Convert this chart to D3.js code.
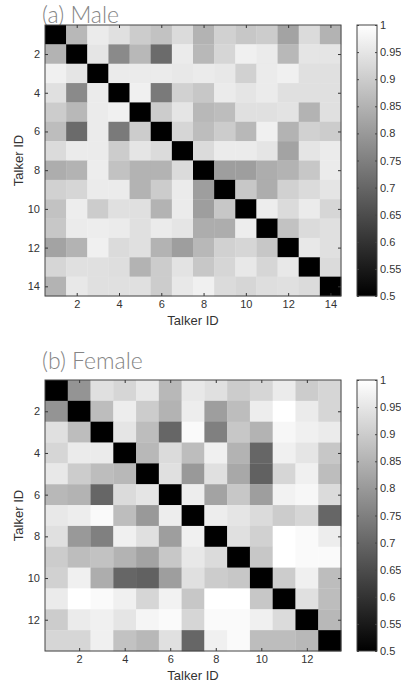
<!DOCTYPE html>
<html>
<head>
<meta charset="utf-8">
<script src="https://cdn.jsdelivr.net/npm/d3@7"></script>
<style>
  body { margin: 0; background: #fff; }
  svg { display: block; }
  .tick text { font-family: "Liberation Sans", Arial, sans-serif; font-size: 11px; fill: #333; }
  .axis-label { font-family: "Liberation Sans", Arial, sans-serif; font-size: 13px; fill: #333; }
  .panel-title { font-family: "Lato", "Open Sans", sans-serif; font-weight: 300; font-size: 23px; fill: #858585; }
</style>
</head>
<body>
<div id="chart"></div>
<script>
// Speaker similarity matrices, diagonal = 0.5 floor
const maleIds = d3.range(1, 15);
const maleMatrix = [
  [0.50, 0.86, 0.96, 0.94, 0.90, 0.88, 0.93, 0.85, 0.91, 0.89, 0.90, 0.82, 0.93, 0.85],
  [0.85, 0.50, 0.95, 0.77, 0.86, 0.71, 0.96, 0.86, 0.92, 0.97, 0.96, 0.86, 0.95, 0.95],
  [0.97, 0.95, 0.50, 0.96, 0.96, 0.96, 0.955, 0.96, 0.955, 0.91, 0.96, 0.97, 0.94, 0.94],
  [0.94, 0.77, 0.96, 0.50, 0.97, 0.74, 0.91, 0.89, 0.96, 0.95, 0.96, 0.94, 0.94, 0.94],
  [0.90, 0.86, 0.96, 0.97, 0.50, 0.90, 0.95, 0.86, 0.87, 0.94, 0.94, 0.945, 0.85, 0.94],
  [0.87, 0.71, 0.96, 0.74, 0.90, 0.50, 0.92, 0.87, 0.90, 0.86, 0.97, 0.85, 0.91, 0.90],
  [0.93, 0.96, 0.96, 0.90, 0.95, 0.93, 0.50, 0.93, 0.96, 0.96, 0.95, 0.82, 0.95, 0.96],
  [0.84, 0.85, 0.965, 0.88, 0.85, 0.85, 0.93, 0.50, 0.81, 0.81, 0.84, 0.85, 0.89, 0.96],
  [0.91, 0.92, 0.96, 0.96, 0.85, 0.90, 0.96, 0.81, 0.50, 0.89, 0.84, 0.91, 0.93, 0.95],
  [0.88, 0.965, 0.90, 0.94, 0.94, 0.85, 0.96, 0.81, 0.89, 0.50, 0.965, 0.93, 0.96, 0.92],
  [0.89, 0.96, 0.965, 0.96, 0.94, 0.96, 0.95, 0.84, 0.84, 0.965, 0.50, 0.88, 0.93, 0.94],
  [0.82, 0.85, 0.97, 0.93, 0.94, 0.85, 0.81, 0.86, 0.91, 0.92, 0.89, 0.50, 0.955, 0.94],
  [0.92, 0.94, 0.94, 0.935, 0.85, 0.90, 0.945, 0.89, 0.92, 0.955, 0.92, 0.955, 0.50, 0.93],
  [0.85, 0.955, 0.94, 0.94, 0.94, 0.90, 0.955, 0.97, 0.93, 0.92, 0.935, 0.94, 0.93, 0.50]
];

const femaleIds = d3.range(1, 14);
const femaleMatrix = [
  [0.50, 0.79, 0.94, 0.92, 0.955, 0.86, 0.955, 0.94, 0.90, 0.92, 0.96, 0.90, 0.92],
  [0.79, 0.50, 0.87, 0.965, 0.90, 0.85, 0.965, 0.81, 0.87, 0.965, 1.00, 0.96, 0.92],
  [0.94, 0.87, 0.50, 0.95, 0.87, 0.70, 0.99, 0.75, 0.89, 0.85, 0.985, 0.97, 0.96],
  [0.92, 0.96, 0.96, 0.50, 0.86, 0.93, 0.87, 0.97, 0.85, 0.70, 0.97, 0.95, 0.89],
  [0.955, 0.90, 0.87, 0.86, 0.50, 0.94, 0.80, 0.94, 0.83, 0.69, 0.92, 0.97, 0.87],
  [0.86, 0.85, 0.70, 0.93, 0.95, 0.50, 0.965, 0.82, 0.89, 0.81, 0.975, 0.985, 0.93],
  [0.955, 0.965, 0.99, 0.87, 0.80, 0.965, 0.50, 0.965, 0.95, 0.93, 0.90, 0.92, 0.70],
  [0.94, 0.80, 0.75, 0.97, 0.94, 0.81, 0.97, 0.50, 0.94, 0.91, 1.00, 0.99, 0.965],
  [0.90, 0.87, 0.88, 0.85, 0.82, 0.89, 0.955, 0.93, 0.50, 0.89, 1.00, 0.99, 0.99],
  [0.91, 0.97, 0.84, 0.70, 0.69, 0.81, 0.94, 0.90, 0.89, 0.50, 0.90, 0.97, 0.87],
  [0.96, 1.00, 0.99, 0.97, 0.92, 0.975, 0.89, 1.00, 1.00, 0.89, 0.50, 0.94, 0.87],
  [0.90, 0.96, 0.97, 0.95, 0.98, 0.99, 0.92, 0.99, 0.99, 0.97, 0.93, 0.50, 0.86],
  [0.92, 0.92, 0.97, 0.88, 0.86, 0.94, 0.70, 0.97, 0.99, 0.87, 0.87, 0.86, 0.50]
];

const colorTicks = [0.5, 0.55, 0.6, 0.65, 0.7, 0.75, 0.8, 0.85, 0.9, 0.95, 1];
const colorDomain = [0.5, 1];

const width = 401;
const height = 684;

const svg = d3.select('#chart')
  .append('svg')
  .attr('width', width)
  .attr('height', height);

// grey colormap, black = 0.5, white = 1
const color = d3.scaleLinear()
  .domain(colorDomain)
  .range(['#000000', '#ffffff'])
  .clamp(true);

// shared gradient for both colorbars
const grad = svg.append('defs')
  .append('linearGradient')
  .attr('id', 'greys')
  .attr('x1', 0).attr('y1', 1)
  .attr('x2', 0).attr('y2', 0);
grad.append('stop').attr('offset', '0%').attr('stop-color', color(colorDomain[0]));
grad.append('stop').attr('offset', '100%').attr('stop-color', color(colorDomain[1]));

/**
 * Draw one heatmap panel with its colorbar
 */
function drawPanel(cfg) {
  const { title, titleY, ids, matrix, top } = cfg;
  const left = 45, right = 341, bottom = top + 271;
  const n = ids.length;

  const x = d3.scaleLinear().domain([0.5, n + 0.5]).range([left, right]);
  const y = d3.scaleLinear().domain([0.5, n + 0.5]).range([top, bottom]);

  const g = svg.append('g');

  // title first so the frame sits on top of it
  g.append('text')
    .attr('class', 'panel-title')
    .attr('x', 42)
    .attr('y', titleY)
    .text(title);

  // cells
  const cells = [];
  matrix.forEach((row, i) => row.forEach((v, j) => cells.push({ r: ids[i], c: ids[j], v })));

  g.selectAll('rect.cell')
    .data(cells)
    .enter()
    .append('rect')
    .attr('class', 'cell')
    .attr('x', d => x(d.c - 0.5))
    .attr('y', d => y(d.r - 0.5))
    .attr('width', x(1.5) - x(0.5) + 0.3)
    .attr('height', y(1.5) - y(0.5) + 0.3)
    .attr('fill', d => color(d.v));

  const tickVals = ids.filter(d => d % 2 === 0);

  // inward ticks on all four sides (matlab style)
  g.append('g')
    .attr('transform', `translate(0,${bottom})`)
    .call(d3.axisBottom(x).tickValues(tickVals).tickSizeInner(-3).tickSizeOuter(0).tickPadding(4))
    .call(a => a.select('.domain').remove())
    .call(a => a.selectAll('line').attr('stroke', '#333'));

  g.append('g')
    .attr('transform', `translate(0,${top})`)
    .call(d3.axisTop(x).tickValues(tickVals).tickSizeInner(-3).tickSizeOuter(0).tickFormat(''))
    .call(a => a.select('.domain').remove())
    .call(a => a.selectAll('line').attr('stroke', '#333'));

  g.append('g')
    .attr('transform', `translate(${left},0)`)
    .call(d3.axisLeft(y).tickValues(tickVals).tickSizeInner(-3).tickSizeOuter(0).tickPadding(5))
    .call(a => a.select('.domain').remove())
    .call(a => a.selectAll('line').attr('stroke', '#333'));

  g.append('g')
    .attr('transform', `translate(${right},0)`)
    .call(d3.axisRight(y).tickValues(tickVals).tickSizeInner(-3).tickSizeOuter(0).tickFormat(''))
    .call(a => a.select('.domain').remove())
    .call(a => a.selectAll('line').attr('stroke', '#333'));

  // frame
  g.append('rect')
    .attr('x', left).attr('y', top)
    .attr('width', right - left).attr('height', bottom - top)
    .attr('fill', 'none')
    .attr('stroke', '#444')
    .attr('stroke-width', 1);

  // axis labels
  g.append('text')
    .attr('class', 'axis-label')
    .attr('x', (left + right) / 2)
    .attr('y', bottom + 29)
    .attr('text-anchor', 'middle')
    .text('Talker ID');

  g.append('text')
    .attr('class', 'axis-label')
    .attr('transform', `translate(23,${(top + bottom) / 2}) rotate(-90)`)
    .attr('text-anchor', 'middle')
    .text('Talker ID');

  // colorbar
  const cbLeft = 357, cbRight = 377;
  const cy = d3.scaleLinear().domain(colorDomain).range([bottom, top]);

  g.append('rect')
    .attr('x', cbLeft).attr('y', top)
    .attr('width', cbRight - cbLeft).attr('height', bottom - top)
    .attr('fill', 'url(#greys)');

  g.append('g')
    .attr('transform', `translate(${cbRight},0)`)
    .call(d3.axisRight(cy).tickValues(colorTicks).tickFormat(d3.format('')).tickSizeInner(-2).tickSizeOuter(0).tickPadding(3))
    .call(a => a.select('.domain').remove())
    .call(a => a.selectAll('line').attr('stroke', '#444'));

  g.append('g')
    .attr('transform', `translate(${cbLeft},0)`)
    .call(d3.axisLeft(cy).tickValues(colorTicks).tickFormat('').tickSizeInner(-2).tickSizeOuter(0))
    .call(a => a.select('.domain').remove())
    .call(a => a.selectAll('line').attr('stroke', '#444'));

  g.append('rect')
    .attr('x', cbLeft).attr('y', top)
    .attr('width', cbRight - cbLeft).attr('height', bottom - top)
    .attr('fill', 'none')
    .attr('stroke', '#444');
}

drawPanel({ title: '(a) Male', titleY: 23, ids: maleIds, matrix: maleMatrix, top: 25 });
drawPanel({ title: '(b) Female', titleY: 369, ids: femaleIds, matrix: femaleMatrix, top: 380 });
</script>
</body>
</html>
